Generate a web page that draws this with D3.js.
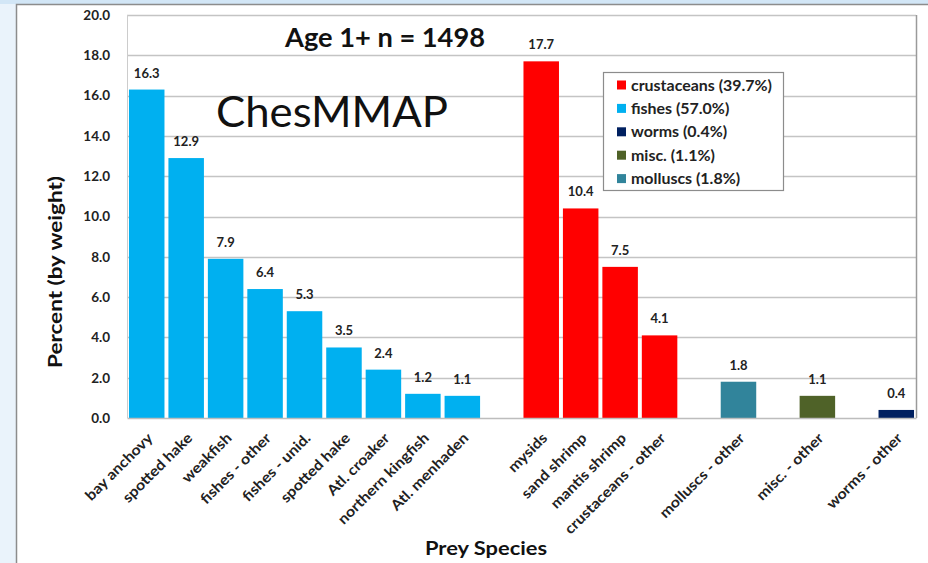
<!DOCTYPE html>
<html><head><meta charset="utf-8">
<script src="https://cdn.jsdelivr.net/npm/d3@7"></script>
<style>
html,body{margin:0;padding:0;background:#eaf3fb;}
svg{display:block;}
text{font-family:Lato, "Liberation Sans", sans-serif;}
</style></head>
<body><svg id="chart" width="928" height="563"></svg>
<script>
// Data (empty strings are spacer slots between groups)
const categories = ["bay anchovy","spotted hake","weakfish","fishes - other","fishes - unid.","spotted hake","Atl. croaker","northern kingfish","Atl. menhaden","",
  "mysids","sand shrimp","mantis shrimp","crustaceans - other","","molluscs - other","","misc. - other","","worms - other"];
const values = [16.3,12.9,7.9,6.4,5.3,3.5,2.4,1.2,1.1,null,17.7,10.4,7.5,4.1,null,1.8,null,1.1,null,0.4];
const groups = ["fishes","fishes","fishes","fishes","fishes","fishes","fishes","fishes","fishes","",
  "crustaceans","crustaceans","crustaceans","crustaceans","","molluscs","","misc.","","worms"];
const legendNames = ["crustaceans","fishes","worms","misc.","molluscs"];
const legendPct = ["39.7%","57.0%","0.4%","1.1%","1.8%"];
const legendColors = ["#ff0000","#00b0f0","#002060","#4f6228","#31849b"];
const yTicks = [0,2,4,6,8,10,12,14,16,18,20];

const svg = d3.select("#chart");
// slide panel
svg.append("rect").attr("x",0).attr("y",0).attr("width",928).attr("height",563).attr("fill","#eaf3fb");
svg.append("rect").attr("x",0).attr("y",0).attr("width",928).attr("height",4).attr("fill","#d2e6f6");
svg.append("rect").attr("x",16.5).attr("y",4.5).attr("width",920).attr("height",570)
  .attr("fill","#ffffff").attr("stroke","#8c8c8c").attr("stroke-width",1.5);

const m = {left:127, right:916, top:15, bottom:418};
const color = d3.scaleOrdinal().domain(legendNames).range(legendColors);
const x = d3.scaleBand().domain(d3.range(categories.length)).range([m.left,m.right]).paddingInner(0.1).paddingOuter(0.05);
const y = d3.scaleLinear().domain([0,20]).range([m.bottom,m.top]);

// gridlines
svg.append("g").selectAll("line").data(yTicks.filter(d=>d>0)).join("line")
  .attr("x1",m.left).attr("x2",m.right).attr("y1",d=>Math.round(y(d))+0.5).attr("y2",d=>Math.round(y(d))+0.5)
  .attr("stroke","#c4c4c4").attr("stroke-width",1.5);
svg.append("line").attr("x1",m.right+0.5).attr("x2",m.right+0.5).attr("y1",m.top).attr("y2",m.bottom)
  .attr("stroke","#9a9a9a").attr("stroke-width",1.5);
svg.append("line").attr("x1",m.left+0.5).attr("x2",m.left+0.5).attr("y1",m.top).attr("y2",m.bottom)
  .attr("stroke","#cccccc").attr("stroke-width",1);

// y axis
const yAxis = d3.axisLeft(y).tickValues(yTicks).tickFormat(d3.format(".1f")).tickSize(0).tickPadding(17);
const gy = svg.append("g").attr("transform",`translate(${m.left},0)`).call(yAxis);
gy.select(".domain").remove();
gy.selectAll("text").attr("font-size",13.5).attr("font-weight","bold").attr("fill","#222")
  .attr("font-family","Lato, sans-serif");

// bars
const idx = d3.range(categories.length).filter(i=>values[i]!=null);
svg.append("g").selectAll("rect").data(idx).join("rect")
  .attr("x",i=>x(i)).attr("width",x.bandwidth())
  .attr("y",i=>y(values[i])).attr("height",i=>y(0)-y(values[i]))
  .attr("fill",i=>color(groups[i]));

// value labels
svg.append("g").selectAll("text").data(idx).join("text")
  .attr("x",i=>x(i)+x.bandwidth()/2).attr("y",i=>y(values[i])-12)
  .attr("text-anchor","middle").attr("font-size",13).attr("font-weight","bold").attr("fill","#222")
  .text(i=>values[i].toFixed(1));

// x axis
const xAxis = d3.axisBottom(x).tickFormat(i=>categories[i]).tickSize(0).tickPadding(0);
const gx = svg.append("g").attr("transform",`translate(0,${m.bottom})`).call(xAxis);
gx.select(".domain").attr("stroke","#bdbdbd").attr("stroke-width",1.5);
gx.selectAll(".tick text").attr("font-size",14.5).attr("font-weight","bold").attr("fill","#222")
  .attr("text-anchor","end").attr("dy",0).attr("y",0)
  .attr("transform","translate(7,21) rotate(-45) scale(1.1,1)");

// axis titles
svg.append("text").attr("transform","translate(62,272) rotate(-90)").attr("text-anchor","middle")
  .attr("font-size",19).attr("font-weight","bold").attr("fill","#111")
  .attr("textLength",192).attr("lengthAdjust","spacingAndGlyphs").text("Percent (by weight)");
svg.append("text").attr("x",486).attr("y",555).attr("text-anchor","middle")
  .attr("font-size",19).attr("font-weight","bold").attr("fill","#111")
  .attr("textLength",122).attr("lengthAdjust","spacingAndGlyphs").text("Prey Species");

// titles
svg.append("text").attr("x",385).attr("y",47).attr("text-anchor","middle")
  .attr("font-size",26).attr("font-weight","bold").attr("fill","#111")
  .attr("textLength",200).attr("lengthAdjust","spacingAndGlyphs").text("Age 1+ n = 1498");
svg.append("text").attr("x",216).attr("y",127)
  .attr("font-size",43).attr("fill","#111")
  .attr("textLength",232).attr("lengthAdjust","spacingAndGlyphs").text("ChesMMAP");

// legend
const lg = svg.append("g").attr("transform","translate(603,72)");
lg.append("rect").attr("x",0.5).attr("y",0.5).attr("width",180).attr("height",118)
  .attr("fill","#fff").attr("stroke","#8c8c8c").attr("stroke-width",1.2);
const le = lg.selectAll("g").data(legendNames).join("g")
  .attr("transform",(d,i)=>`translate(14,${13+i*23.4})`);
le.append("rect").attr("x",0).attr("y",-4.5).attr("width",9).attr("height",9).attr("fill",d=>color(d));
le.append("text").attr("x",14).attr("y",5.5).attr("font-size",14.5).attr("font-weight","bold").attr("fill","#222")
  .attr("transform","translate(14,0) scale(1.1,1) translate(-14,0)")
  .text((d,i)=>`${d} (${legendPct[i]})`);
</script></body></html>
